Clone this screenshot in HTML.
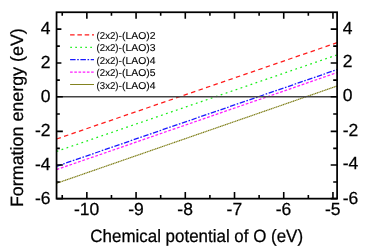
<!DOCTYPE html><html><head><meta charset="utf-8"><style>html,body{margin:0;padding:0;background:#fff;}svg{display:block;transform:translateZ(0);will-change:transform;}text{text-rendering:geometricPrecision;font-family:"Liberation Sans",sans-serif;fill:#000;}</style></head><body>
<svg width="374" height="249" viewBox="0 0 374 249">
<rect width="374" height="249" fill="#fff"/>
<line x1="56.55" y1="139.00" x2="337.1" y2="42.70" stroke="#ff1a1a" stroke-width="1.25" stroke-dasharray="4.5 3.4"/>
<line x1="56.55" y1="151.40" x2="337.1" y2="54.90" stroke="#1aee1a" stroke-width="1.25" stroke-dasharray="1.8 3.46"/>
<line x1="56.55" y1="166.30" x2="337.1" y2="69.60" stroke="#1a1aff" stroke-width="1.3" stroke-dasharray="5.4 1.6 1.6 1.6"/>
<line x1="56.55" y1="169.60" x2="337.1" y2="72.60" stroke="#ff1aff" stroke-width="1.25" stroke-dasharray="2.8 1.75"/>
<line x1="56.55" y1="183.30" x2="337.1" y2="86.00" stroke="#7c7c14" stroke-width="1.2" stroke-dasharray="1.3 0.5"/>
<line x1="56.55" y1="96.8" x2="337.1" y2="96.8" stroke="#444" stroke-width="1.5"/>
<rect x="56.55" y="12.25" width="280.55" height="186.4" fill="none" stroke="#000" stroke-width="1.75"/>
<path d="M62.24 198.65v-3.6M62.24 12.25v3.6M86.85 198.65v-6.6M86.85 12.25v6.6M111.46 198.65v-3.6M111.46 12.25v3.6M136.07 198.65v-6.6M136.07 12.25v6.6M160.68 198.65v-3.6M160.68 12.25v3.6M185.29 198.65v-6.6M185.29 12.25v6.6M209.90 198.65v-3.6M209.90 12.25v3.6M234.51 198.65v-6.6M234.51 12.25v6.6M259.12 198.65v-3.6M259.12 12.25v3.6M283.73 198.65v-6.6M283.73 12.25v6.6M308.34 198.65v-3.6M308.34 12.25v3.6M332.95 198.65v-6.6M332.95 12.25v6.6M56.55 198.65h6.3M337.1 198.65h-6.4M56.55 182.00h3.3M337.1 182.00h-3.9M56.55 165.00h6.3M337.1 165.00h-6.4M56.55 148.40h3.3M337.1 148.40h-3.9M56.55 131.40h6.3M337.1 131.40h-6.4M56.55 114.00h3.3M337.1 114.00h-3.9M56.55 96.80h6.3M337.1 96.80h-6.4M56.55 80.10h3.3M337.1 80.10h-3.9M56.55 63.00h6.3M337.1 63.00h-6.4M56.55 46.10h3.3M337.1 46.10h-3.9M56.55 29.14h6.3M337.1 29.14h-6.4" stroke="#000" stroke-width="1.6" fill="none"/>
<g font-size="17.5" stroke="#000" stroke-width="0.25">
<text x="86.70" y="215.15" text-anchor="middle">-10</text>
<text x="135.92" y="215.15" text-anchor="middle">-9</text>
<text x="185.14" y="215.15" text-anchor="middle">-8</text>
<text x="234.36" y="215.15" text-anchor="middle">-7</text>
<text x="283.58" y="215.15" text-anchor="middle">-6</text>
<text x="332.80" y="215.15" text-anchor="middle">-5</text>
<text x="50.6" y="33.9" text-anchor="end">4</text>
<text x="342.7" y="33.5" text-anchor="start">4</text>
<text x="50.6" y="67.8" text-anchor="end">2</text>
<text x="342.7" y="67.4" text-anchor="start">2</text>
<text x="50.6" y="101.6" text-anchor="end">0</text>
<text x="342.7" y="101.2" text-anchor="start">0</text>
<text x="50.6" y="136.2" text-anchor="end">-2</text>
<text x="342.7" y="135.8" text-anchor="start">-2</text>
<text x="50.6" y="169.8" text-anchor="end">-4</text>
<text x="342.7" y="169.4" text-anchor="start">-4</text>
<text x="50.6" y="203.7" text-anchor="end">-6</text>
<text x="342.7" y="203.8" text-anchor="start">-6</text>
</g>
<g font-size="17.8" stroke="#000" stroke-width="0.25" text-anchor="middle">
<text x="196.7" y="242.4" textLength="212.7" lengthAdjust="spacingAndGlyphs">Chemical potential of O (eV)</text>
<text transform="translate(22.9,117.65) rotate(-90)" textLength="178.9" lengthAdjust="spacingAndGlyphs">Formation energy (eV)</text>
</g>
<rect x="61.4" y="24" width="100" height="68" fill="#fff"/>
<g font-size="10" stroke="#000" stroke-width="0.12">
<line x1="70.1" y1="34.90" x2="94.0" y2="34.90" stroke="#ff1a1a" stroke-width="1.15" stroke-dasharray="4.5 2.8"/>
<text x="96.6" y="39.05" textLength="21.9" lengthAdjust="spacingAndGlyphs">(2x2)</text><text x="118.5" y="39.05" textLength="37.0" lengthAdjust="spacingAndGlyphs">-(LAO)2</text>
<line x1="70.3" y1="47.30" x2="94.0" y2="47.30" stroke="#1aee1a" stroke-width="1.15" stroke-dasharray="1.6 3.4"/>
<text x="96.6" y="51.45" textLength="21.9" lengthAdjust="spacingAndGlyphs">(2x2)</text><text x="118.5" y="51.45" textLength="37.0" lengthAdjust="spacingAndGlyphs">-(LAO)3</text>
<line x1="70.1" y1="59.70" x2="94.0" y2="59.70" stroke="#1a1aff" stroke-width="1.20" stroke-dasharray="5.5 1.6 1.6 1.6"/>
<text x="96.6" y="63.85" textLength="21.9" lengthAdjust="spacingAndGlyphs">(2x2)</text><text x="118.5" y="63.85" textLength="37.0" lengthAdjust="spacingAndGlyphs">-(LAO)4</text>
<line x1="70.1" y1="72.10" x2="94.0" y2="72.10" stroke="#ff1aff" stroke-width="1.15" stroke-dasharray="2.6 1.6"/>
<text x="96.6" y="76.25" textLength="21.9" lengthAdjust="spacingAndGlyphs">(2x2)</text><text x="118.5" y="76.25" textLength="37.0" lengthAdjust="spacingAndGlyphs">-(LAO)5</text>
<line x1="70.1" y1="84.50" x2="94.0" y2="84.50" stroke="#7c7c14" stroke-width="0.95" stroke-dasharray="30 0"/>
<text x="96.6" y="88.65" textLength="21.9" lengthAdjust="spacingAndGlyphs">(3x2)</text><text x="118.5" y="88.65" textLength="37.0" lengthAdjust="spacingAndGlyphs">-(LAO)4</text>
</g>
</svg></body></html>
